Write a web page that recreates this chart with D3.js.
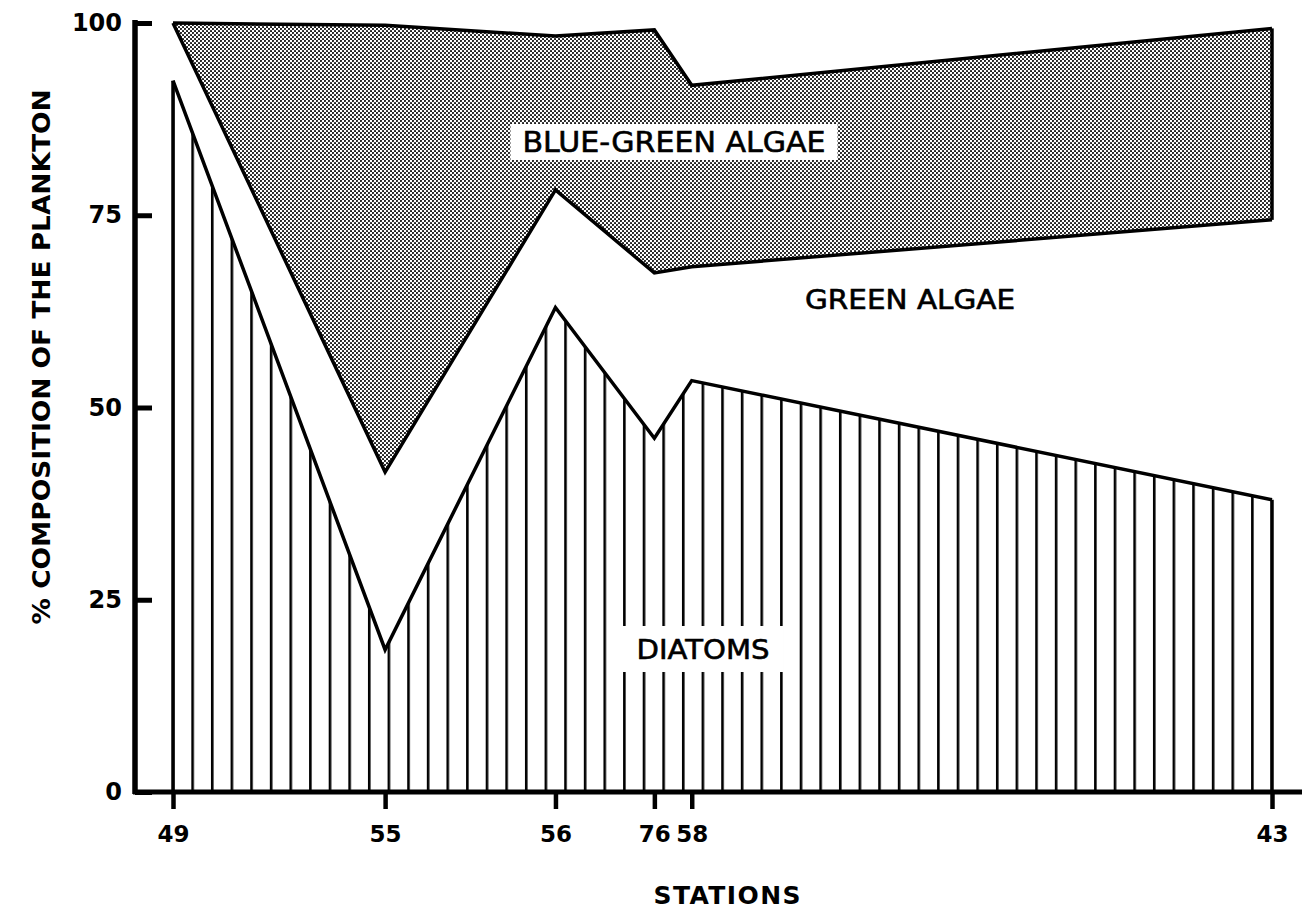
<!DOCTYPE html>
<html>
<head>
<meta charset="utf-8">
<script src="https://cdn.jsdelivr.net/npm/d3@7"></script>
<style>
  body { margin: 0; background: #fff; }
  text { font-family: "DejaVu Sans", sans-serif; fill: #000; }
</style>
</head>
<body>
<svg width="1302" height="912"></svg>
<script>
// stations along the transect and their relative distance (0-100)
const stations = ["49", "55", "56", "76", "58", "43"];
const stationDist = [0, 19.3, 34.8, 43.8, 47.2, 100];

// % composition of the plankton at each station
const diatoms = [92.5, 18.5, 63, 46, 53.5, 38];
const greenAlgae = [7.5, 23.1, 15.3, 21.5, 14.8, 36.4];
const blueGreenAlgae = [0, 58.1, 20, 31.6, 23.6, 24.9];

const yTicks = [0, 25, 50, 75, 100];

const svg = d3.select("svg"),
  width = +svg.attr("width"),
  height = +svg.attr("height");

const x = d3.scaleLinear().domain([0, 100]).range([173, 1272]);
const y = d3.scaleLinear().domain([0, 100]).range([792, 23]);

const axisX = 135; // y axis sits left of the first station

svg.append("rect").attr("width", width).attr("height", height).attr("fill", "#fff");

const rows = stations.map((s, i) => ({
  station: s,
  dist: stationDist[i],
  diatoms: diatoms[i],
  green: greenAlgae[i],
  bluegreen: blueGreenAlgae[i]
}));

const stack = d3.stack().keys(["diatoms", "green", "bluegreen"]);
const series = stack(rows);

// patterns
const defs = svg.append("defs");
const step = (x(100) - x(0)) / 56;
const hatch = defs.append("pattern")
  .attr("id", "hatch")
  .attr("patternUnits", "userSpaceOnUse")
  .attr("x", x(0) - 1.3)
  .attr("y", 0)
  .attr("width", step)
  .attr("height", 20);
hatch.append("rect").attr("width", step).attr("height", 20).attr("fill", "#fff");
hatch.append("rect").attr("x", 0).attr("width", 2.6).attr("height", 20).attr("fill", "#000");

const dots = defs.append("pattern")
  .attr("id", "dots")
  .attr("patternUnits", "userSpaceOnUse")
  .attr("width", 4)
  .attr("height", 4);
dots.append("rect").attr("width", 4).attr("height", 4).attr("fill", "#fff");
dots.append("circle").attr("cx", 1).attr("cy", 1).attr("r", 1.05).attr("fill", "#111");
dots.append("circle").attr("cx", 3).attr("cy", 3).attr("r", 1.05).attr("fill", "#111");

const area = d3.area()
  .x(d => x(d.data.dist))
  .y0(d => y(d[0]))
  .y1(d => y(d[1]));

const fills = { diatoms: "url(#hatch)", green: "#fff", bluegreen: "url(#dots)" };

svg.append("g")
  .selectAll("path")
  .data(series)
  .enter()
  .append("path")
  .attr("d", area)
  .attr("fill", d => fills[d.key]);

// boundary lines on top of each layer
const topLine = d3.line()
  .x(d => x(d.data.dist))
  .y(d => y(d[1]));

svg.append("g")
  .selectAll("path")
  .data(series)
  .enter()
  .append("path")
  .attr("d", topLine)
  .attr("fill", "none")
  .attr("stroke", "#000")
  .attr("stroke-width", 3.5)
  .attr("stroke-linejoin", "miter");

// vertical edges: diatoms at both ends, blue-green at the last station
const last = rows.length - 1;
const edges = [
  [0, 0, series[0][0][1]],
  [last, 0, series[0][last][1]],
  [last, series[2][last][0], series[2][last][1]]
];
svg.append("g")
  .selectAll("line")
  .data(edges)
  .enter()
  .append("line")
  .attr("x1", d => x(stationDist[d[0]]))
  .attr("x2", d => x(stationDist[d[0]]))
  .attr("y1", d => y(d[1]))
  .attr("y2", d => y(d[2]))
  .attr("stroke", "#000")
  .attr("stroke-width", 3.5);

// labels inside the chart
function boxLabel(txt, cx, cy, len, size, pad) {
  const g = svg.append("g");
  if (pad) {
    g.append("rect")
      .attr("x", cx - len / 2 - pad[0])
      .attr("y", cy - pad[1])
      .attr("width", len + pad[0] * 2)
      .attr("height", pad[1] * 2)
      .attr("fill", "#fff");
  }
  g.append("text")
    .attr("x", cx)
    .attr("y", cy)
    .attr("dy", "0.36em")
    .attr("text-anchor", "middle")
    .attr("font-size", size)
    .attr("textLength", len)
    .attr("lengthAdjust", "spacingAndGlyphs")
    .attr("stroke", "#000")
    .attr("stroke-width", 0.6)
    .text(txt);
}
boxLabel("BLUE-GREEN ALGAE", 674, 142, 303, 28, [12, 18]);
boxLabel("GREEN ALGAE", 910, 300, 210, 26, null);
boxLabel("DIATOMS", 703, 649, 133, 27, [14, 23]);

// axes
svg.append("line")
  .attr("x1", axisX).attr("x2", axisX)
  .attr("y1", y(100) - 3).attr("y2", y(0) + 2)
  .attr("stroke", "#000").attr("stroke-width", 5.5);
svg.append("line")
  .attr("x1", axisX - 2).attr("x2", width)
  .attr("y1", y(0)).attr("y2", y(0))
  .attr("stroke", "#000").attr("stroke-width", 5);

const yAxis = svg.append("g")
  .attr("transform", "translate(" + axisX + ",0)")
  .call(d3.axisLeft(y).tickValues(yTicks).tickSizeInner(-17).tickSizeOuter(0).tickPadding(13));
yAxis.select(".domain").remove();
yAxis.selectAll(".tick line").attr("stroke", "#000").attr("stroke-width", 5);
yAxis.selectAll(".tick text")
  .attr("font-size", 24)
  .attr("font-weight", "bold")
  .attr("font-family", "Liberation Sans")
  .attr("fill", "#000");

const xAxis = svg.append("g")
  .attr("transform", "translate(0," + y(0) + ")")
  .call(d3.axisBottom(x).tickValues(stationDist).tickFormat((d, i) => stations[i])
    .tickSizeInner(17).tickSizeOuter(0).tickPadding(17));
xAxis.select(".domain").remove();
xAxis.selectAll(".tick line").attr("stroke", "#000").attr("stroke-width", 4.5);
xAxis.selectAll(".tick text")
  .attr("font-size", 23)
  .attr("font-weight", "bold")
  .attr("font-family", "Liberation Sans")
  .attr("fill", "#000");

// axis titles
svg.append("text")
  .attr("x", 727)
  .attr("y", 895)
  .attr("dy", "0.36em")
  .attr("text-anchor", "middle")
  .attr("font-size", 25)
  .attr("font-weight", "bold")
  .attr("textLength", 147)
  .text("STATIONS");

svg.append("text")
  .attr("transform", "translate(41,357) rotate(-90)")
  .attr("dy", "0.36em")
  .attr("text-anchor", "middle")
  .attr("font-size", 24)
  .attr("font-weight", "bold")
  .attr("textLength", 535)
  .attr("lengthAdjust", "spacingAndGlyphs")
  .text("% COMPOSITION OF THE PLANKTON");
</script>
</body>
</html>
